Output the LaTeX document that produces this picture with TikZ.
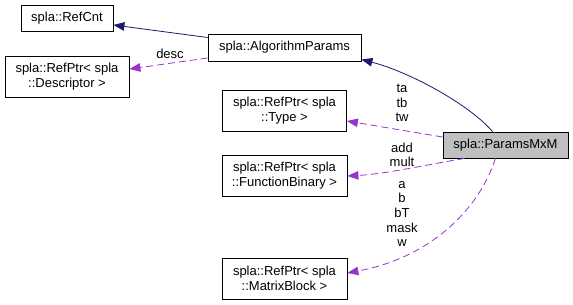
\documentclass[tikz,border=0pt]{standalone}
\usepackage{fontspec}
\setmainfont{Liberation Sans}
\usetikzlibrary{arrows.meta}
\definecolor{inhcol}{HTML}{191970}
\definecolor{usecol}{HTML}{9A32CD}
\definecolor{curfill}{HTML}{BFBFBF}
\tikzset{
  cls/.style={draw=black, line width=0.8pt, fill=white, align=center, inner sep=2pt,
    font=\fontsize{13}{15}\selectfont, minimum width=#1},
  cls/.default=124pt,
  one/.style={minimum height=26pt},
  two/.style={minimum height=41pt},
  inh/.style={draw=inhcol, line width=0.8pt, -{Triangle[length=11pt,width=8.5pt]}},
  use/.style={draw=usecol, line width=0.8pt, dash pattern=on 7pt off 4pt,
    -{Triangle[length=11pt,width=8.5pt]}},
  lbl/.style={align=center, inner sep=0pt, font=\fontsize{13}{14.6}\selectfont}
}
\begin{document}
\begin{tikzpicture}[x=1pt,y=-1pt]
\useasboundingbox (0,0) rectangle (573,305);
% classes
\node[cls=92pt, one] (refcnt) at (67,18) {spla::RefCnt};
\node[cls=153pt, one, minimum height=27pt] (algo) at (284.5,47.5) {spla::AlgorithmParams};
\node[cls, two] (desc) at (67,77) {spla::RefPtr< spla\\::Descriptor >};
\node[cls, two] (type) at (284.5,110.5) {spla::RefPtr< spla\\::Type >};
\node[cls=125pt, one, fill=curfill] (mxm) at (505.5,145) {spla::ParamsMxM};
\node[cls=125pt, two] (func) at (284.5,175.5) {spla::RefPtr< spla\\::FunctionBinary >};
\node[cls=125pt, two] (mblock) at (284.5,278.5) {spla::RefPtr< spla\\::MatrixBlock >};
% inheritance
\draw[inh] ([yshift=10pt]algo.west) -- ([yshift=-7pt]refcnt.east);
\draw[inh] ([xshift=-13pt]mxm.north) .. controls (470,105) and (410,72) .. ([yshift=-12pt]algo.east);
% members
\draw[use] ([yshift=-10.5pt]algo.west) -- ([yshift=8pt]desc.east);
\draw[use] ([yshift=8pt]mxm.west) -- ([yshift=-10.5pt]type.east);
\draw[use] ([xshift=-41pt]mxm.south) .. controls (420,166) and (385,174) .. ([yshift=-0.5pt]func.east);
\draw[use] ([xshift=-10pt]mxm.south) .. controls (478,212) and (428,258) .. ([yshift=5.5pt]mblock.east);
% member names
\node[lbl] (ldesc) at (170,54) {desc};
\node[lbl] (ltype) at (402,103) {ta\\tb\\tw};
\node[lbl] (lfunc) at (402,155) {add\\mult};
\node[lbl] (lmat) at (402,214) {a\\b\\bT\\mask\\w};
\end{tikzpicture}
\end{document}
